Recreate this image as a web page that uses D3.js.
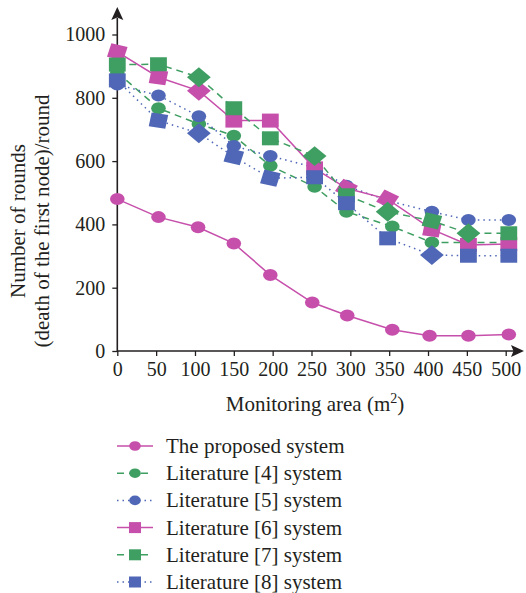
<!DOCTYPE html>
<html>
<head>
<meta charset="utf-8">
<script src="https://cdn.jsdelivr.net/npm/d3@7"></script>
<style>
  html, body { margin: 0; padding: 0; background: #fff; }
  svg { display: block; }
  text { font-family: "Liberation Serif", "DejaVu Serif", serif; fill: #231f20; }
</style>
</head>
<body>
<svg id="chart" width="526" height="593"></svg>
<script>
// ---------------- data ----------------
const xTicks = [0, 50, 100, 150, 200, 250, 300, 350, 400, 450, 500];
const yTicks = [0, 200, 400, 600, 800, 1000];

const xProposed   = [0, 53, 104, 150, 197, 251, 296, 354, 402, 452, 504];
const xLiterature = [0, 53, 105, 150, 197, 254, 295, 348, 405, 452, 504];
const xLit4       = [0, 53, 105, 150, 197, 254, 295, 354, 405, 452, 504];

const proposed = [480, 423, 391, 340, 240, 153, 112, 67, 48, 48, 52];
const lit4 = [880, 767, 717, 680, 585, 519, 440, 393, 343, 343, 343];
const lit5 = [842, 807, 742, 648, 616, 580, 522, 475, 440, 414, 414];
const lit6 = [945, 865, 822, 728, 728, 577, 514, 480, 384, 335, 338];
const lit7 = [905, 906, 865, 767, 672, 616, 492, 440, 411, 372, 372];
const lit8 = [855, 728, 688, 614, 546, 549, 467, 356, 303, 301, 301];

const seriesNames = ["The proposed system", "Literature [4] system", "Literature [5] system",
                     "Literature [6] system", "Literature [7] system", "Literature [8] system"];

// marker tilt (style) for square markers
const lit6Tilt = [15, 10, 45, 0, 0, 0, 30, 30, 10, 0, 0];
const lit7Tilt = [0, 0, 45, 0, 0, 45, 0, 45, 15, 45, 0];
const lit8Tilt = [0, 10, 45, 15, 15, 0, 0, 0, 45, 0, 0];

// ---------------- styles ----------------
const MAGENTA = "#c64fab", GREEN = "#3f9e62", BLUE = "#4f67b6";
const series = [
  {name: seriesNames[0], xs: xProposed,   ys: proposed, color: MAGENTA, dash: null,  shape: "circle"},
  {name: seriesNames[1], xs: xLit4,       ys: lit4,     color: GREEN,   dash: "7,5", shape: "circle"},
  {name: seriesNames[2], xs: xLiterature, ys: lit5,     color: BLUE,    dash: "1.5,4", shape: "circle"},
  {name: seriesNames[3], xs: xLiterature, ys: lit6,     color: MAGENTA, dash: null,  shape: "square", tilt: lit6Tilt},
  {name: seriesNames[4], xs: xLiterature, ys: lit7,     color: GREEN,   dash: "7,5", shape: "square", tilt: lit7Tilt},
  {name: seriesNames[5], xs: xLiterature, ys: lit8,     color: BLUE,    dash: "1.5,4", shape: "square", tilt: lit8Tilt}
];

const svg = d3.select("#chart");
const x = d3.scaleLinear().domain([0, 500]).range([117.3, 505.7]);
const y = d3.scaleLinear().domain([0, 1000]).range([351, 34.5]);

const FS = 20, FT = 21;

// ---------------- axes ----------------
const xAxis = d3.axisBottom(x).tickValues(xTicks).tickSize(5).tickPadding(6).tickFormat(d3.format("d"));
const yAxis = d3.axisLeft(y).tickValues(yTicks).tickSize(5).tickPadding(7).tickFormat(d3.format("d"));

const gx = svg.append("g").attr("transform", `translate(0,${y(0)})`).call(xAxis);
const gy = svg.append("g").attr("transform", `translate(${x(0)},0)`).call(yAxis);
[gx, gy].forEach(g => {
  g.select(".domain").remove();
  g.selectAll(".tick line").attr("stroke", "#231f20").attr("stroke-width", 1.3);
  g.selectAll(".tick text").attr("font-family", "Liberation Serif").attr("font-size", FS).attr("fill", "#231f20");
});

// axis lines with arrows
svg.append("line").attr("x1", x(0)).attr("x2", 514).attr("y1", y(0)).attr("y2", y(0))
  .attr("stroke", "#231f20").attr("stroke-width", 1.6);
svg.append("path").attr("d", `M524,${y(0)} L511,${y(0) - 6} L513.5,${y(0)} L511,${y(0) + 6} Z`).attr("fill", "#231f20");
svg.append("line").attr("x1", x(0)).attr("x2", x(0)).attr("y1", y(0) + 0.8).attr("y2", 18)
  .attr("stroke", "#231f20").attr("stroke-width", 1.6);
svg.append("path").attr("d", `M${x(0)},7 L${x(0) - 6},20 L${x(0)},17.5 L${x(0) + 6},20 Z`).attr("fill", "#231f20");

// axis titles
const xt = svg.append("text").attr("x", 315).attr("y", 411).attr("text-anchor", "middle").attr("font-size", FT);
xt.append("tspan").text("Monitoring area (m");
xt.append("tspan").attr("font-size", 14).attr("dy", -8).text("2");
xt.append("tspan").attr("dy", 8).text(")");

const yt = svg.append("text").attr("transform", "translate(25,221) rotate(-90)").attr("text-anchor", "middle").attr("font-size", FT);
yt.append("tspan").attr("x", 0).attr("y", 0).text("Number of rounds");
yt.append("tspan").attr("x", 0).attr("y", 24).text("(death of the first node)/round");

// ---------------- marks ----------------
function drawMarker(g, shape, color, tx, ty, tilt, scale) {
  const s = scale || 1;
  if (shape === "circle") {
    g.append("ellipse").attr("cx", tx).attr("cy", ty).attr("rx", 7.3 * s).attr("ry", 6 * s).attr("fill", color);
  } else {
    const h = 7 * s;
    g.append("rect").attr("x", -h).attr("y", -h).attr("width", 2 * h).attr("height", 2 * h)
      .attr("fill", color)
      .attr("transform", `translate(${tx},${ty}) scale(1.2,1) rotate(${tilt || 0})`);
  }
}

const plot = svg.append("g");
series.forEach(s => {
  const pts = s.ys.map((v, i) => [s.xs[i], v]);
  const line = d3.line().x(d => x(d[0])).y(d => y(d[1]));
  plot.append("path").attr("d", line(pts)).attr("fill", "none")
    .attr("stroke", s.color).attr("stroke-width", 1.5)
    .attr("stroke-dasharray", s.dash);
  pts.forEach((d, i) => drawMarker(plot, s.shape, s.color, x(d[0]), y(d[1]), s.tilt ? s.tilt[i] : 0));
});

// ---------------- legend ----------------
const legend = svg.append("g");
const rowY = d3.scalePoint().domain(seriesNames).range([446, 582]);
series.forEach(s => {
  const yy = rowY(s.name);
  legend.append("line").attr("x1", 117).attr("x2", 153).attr("y1", yy).attr("y2", yy)
    .attr("stroke", s.color).attr("stroke-width", 1.5).attr("stroke-dasharray", s.dash);
  if (s.shape === "circle") {
    legend.append("ellipse").attr("cx", 135).attr("cy", yy).attr("rx", 5.8).attr("ry", 4.8).attr("fill", s.color);
  } else {
    legend.append("rect").attr("x", 129).attr("y", yy - 5.5).attr("width", 12).attr("height", 11).attr("fill", s.color);
  }
  legend.append("text").attr("x", 166).attr("y", yy + 7).attr("font-size", FT).text(s.name);
});
</script>
</body>
</html>
